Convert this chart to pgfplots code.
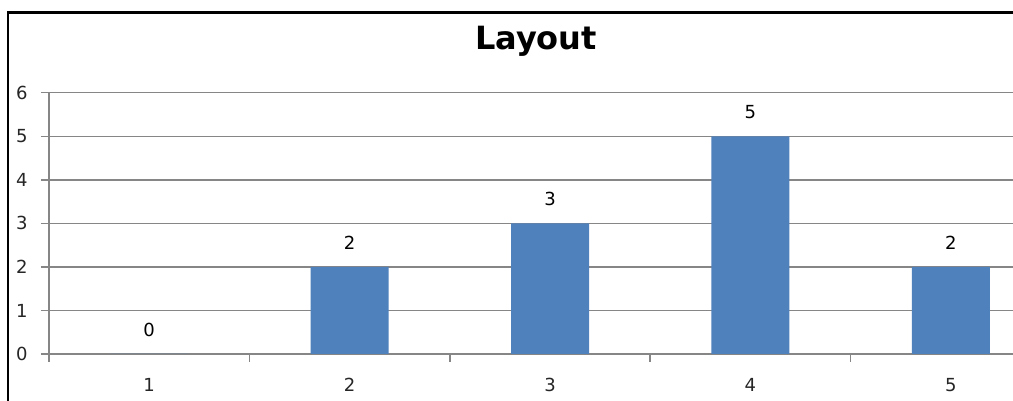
\documentclass[border=0pt]{standalone}
\usepackage{fontspec}
\setmainfont{DejaVu Sans}
\usepackage{pgfplots}
\pgfplotsset{compat=1.18}
\definecolor{barblue}{RGB}{79,129,189}
\definecolor{axgray}{RGB}{134,134,134}
\begin{document}
\begin{tikzpicture}
\useasboundingbox (0pt,0pt) rectangle (506.5pt,200.5pt);
\clip (0pt,0pt) rectangle (506.5pt,200.5pt);
\fill[white] (0pt,0pt) rectangle (506.5pt,200.5pt);
\draw[line width=1.3pt] (4pt,-20pt) -- (4pt,194.25pt) -- (560pt,194.25pt);
\node[anchor=base,inner sep=0pt,font=\bfseries\fontsize{16}{19}\selectfont] at (268pt,175.5pt) {Layout};
\coordinate (O) at (24.5pt,23.5pt);
\begin{axis}[at={(O)}, anchor=south west, scale only axis,
  width=501pt, height=130.65pt,
  xmin=0.5, xmax=5.5, ymin=0, ymax=6,
  axis x line*=bottom, axis y line*=left,
  axis line style={draw=axgray, line width=0.75pt},
  ytick={0,1,2,3,4,5,6},
  xtick={1,2,3,4,5},
  minor xtick={0.5,1.5,2.5,3.5,4.5,5.5},
  tick align=outside,
  major tick length=4pt, minor tick length=4pt,
  tick style={draw=axgray, line width=0.75pt},
  major x tick style={draw=none},
  ymajorgrids, grid style={draw=axgray, line width=0.75pt},
  /pgf/number format/assume math mode=true,
  ticklabel style={font=\fontsize{9}{11}\selectfont, text=black!85},
  yticklabel style={anchor=east, inner sep=0pt, xshift=-6.5pt},
  xticklabel style={anchor=north, inner sep=0pt, yshift=-8pt},
  clip=false,
]
\addplot[ybar, bar width=39pt, fill=barblue, draw=none,
  nodes near coords,
  every node near coord/.append style={font=\fontsize{9}{11}\selectfont, anchor=south, inner sep=0pt, yshift=8.5pt, text=black}]
  coordinates {(1,0) (2,2) (3,3) (4,5) (5,2)};
\end{axis}
\end{tikzpicture}
\end{document}
